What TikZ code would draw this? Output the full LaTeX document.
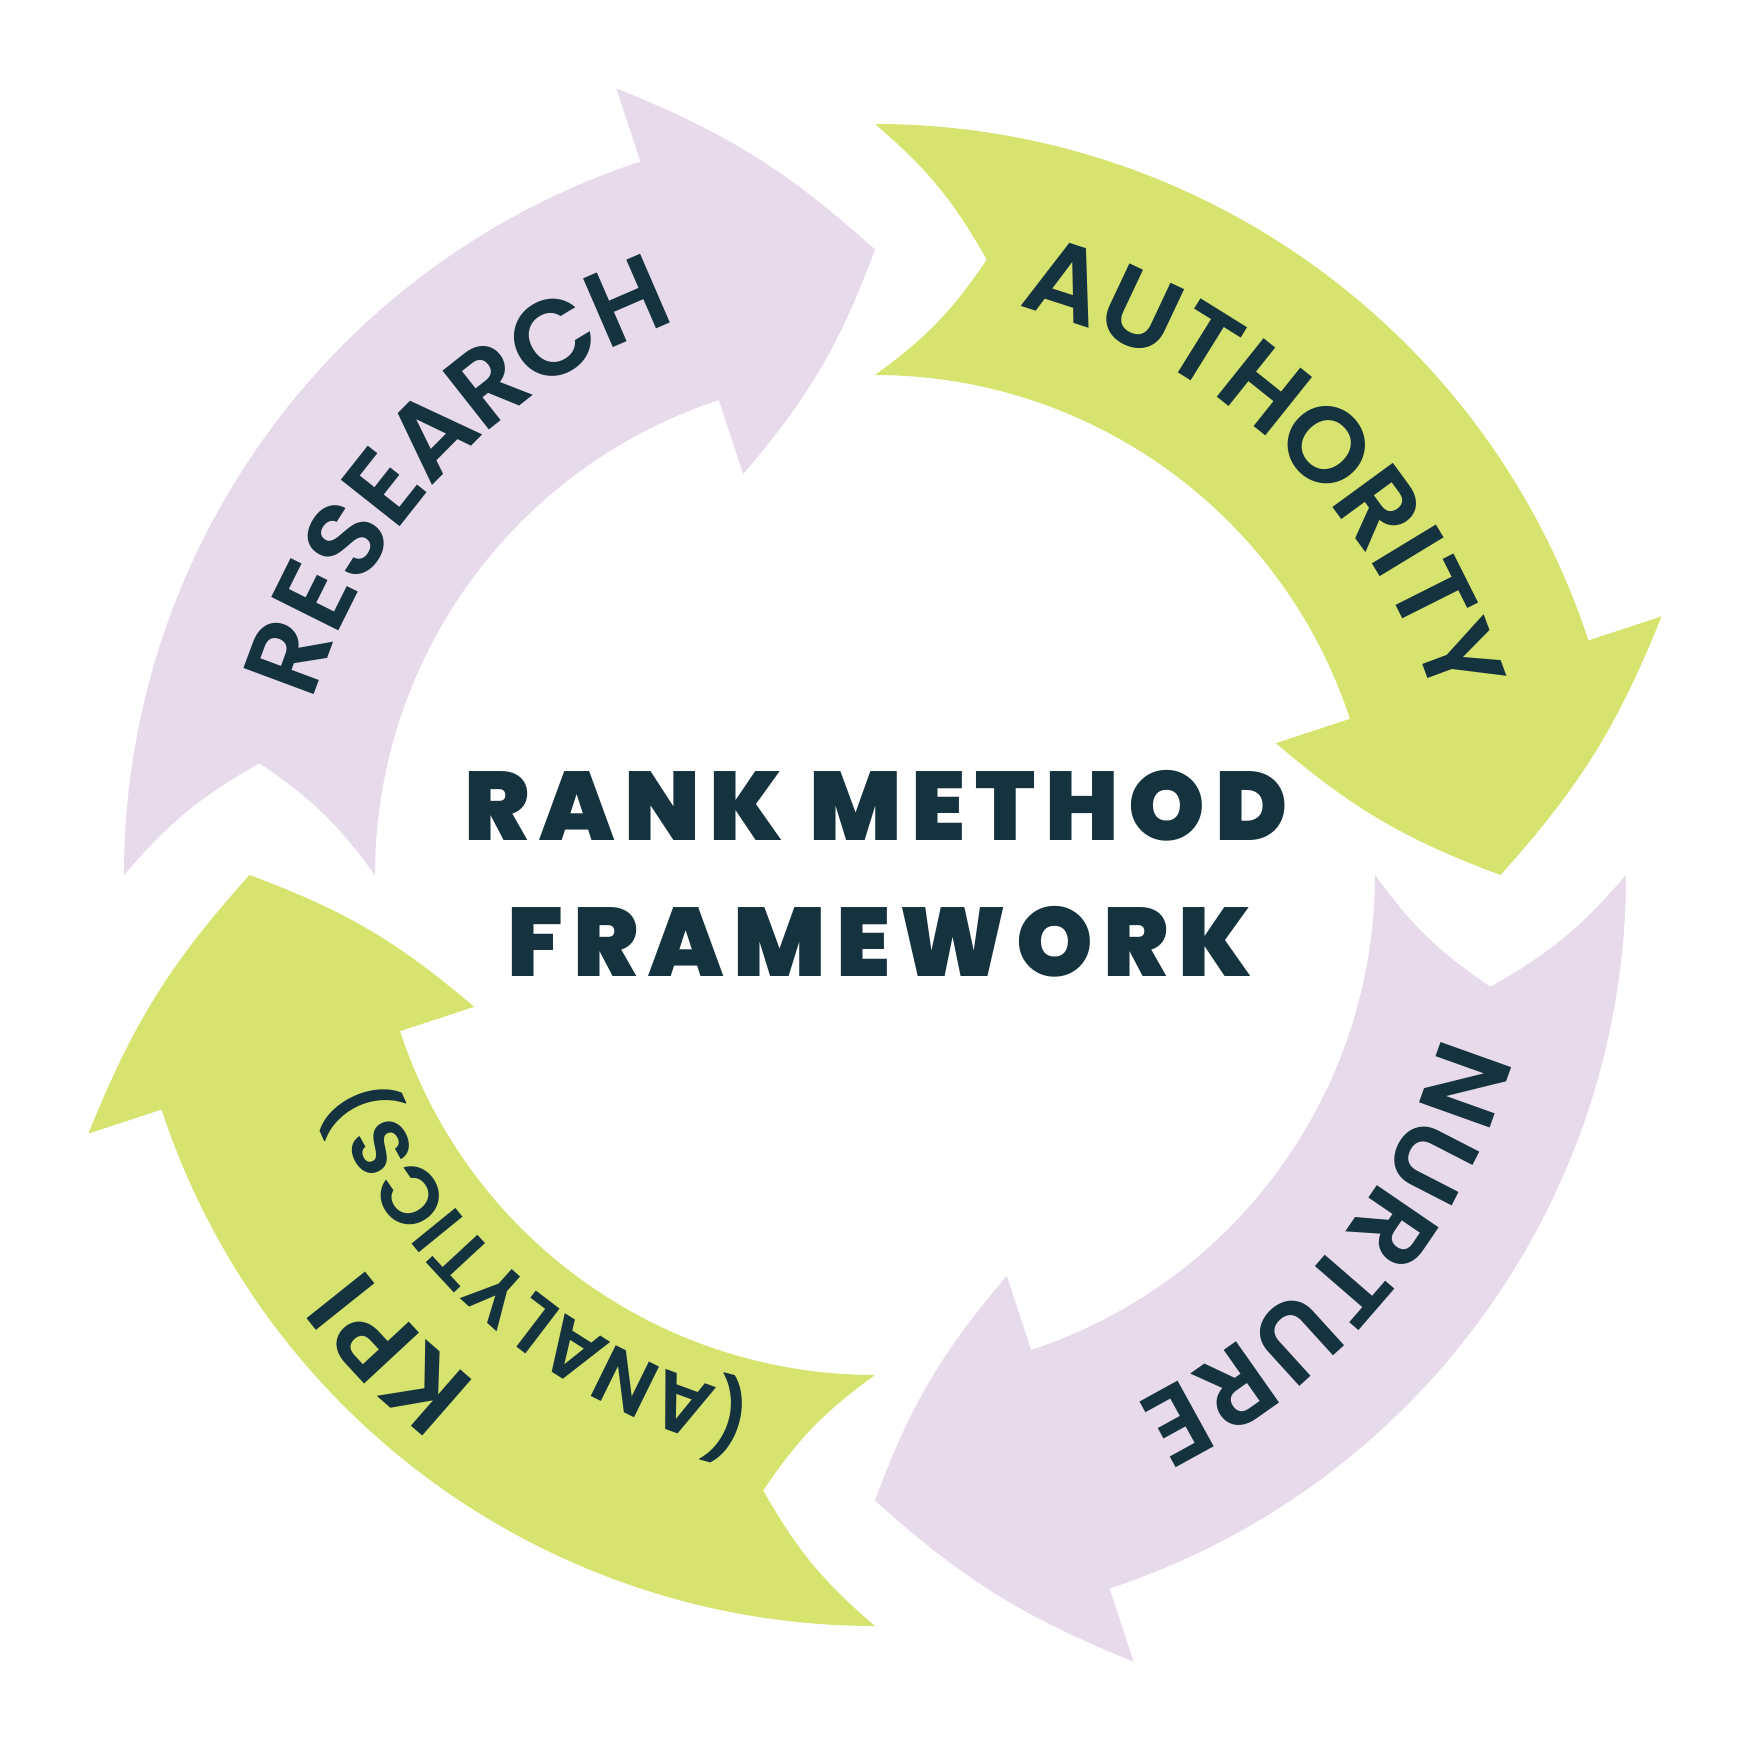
\documentclass[tikz,border=0pt]{standalone}
\usepackage{fontspec}
\newfontfamily\arcfont{Poppins SemiBold}
\newfontfamily\titlefont{Poppins Black}[LetterSpace=10]
\definecolor{ink}{HTML}{15323F}
\definecolor{lime}{HTML}{D7E36F}
\definecolor{lilac}{HTML}{E7DAEA}
\tikzset{
  lettr/.style={anchor=base, inner sep=0pt, outer sep=0pt, text=ink},
  titletext/.style={inner sep=0pt, text=ink, font=\fontsize{27.7}{28}\titlefont},
}
\def\lp{(}
\def\rp{)}
% store the width of one character at one size (measured outside the picture)
\newcommand\storeW[2]{%
  \setbox0=\hbox{\fontsize{#1}{#1}\selectfont\arcfont #2}%
  \expandafter\xdef\csname arcwX#1X#2\endcsname{\the\wd0}}
\newlength\arcTot
% #1 centre radius (px), #2 centre angle, #3 tracking (pt), #4 font size (pt), #5 half cap height (px), #6 name prefix, #7 letters
\newcommand\arcText[7]{%
  \global\arcTot=0pt
  \foreach \ch in {#7}{%
    \edef\wcur{\csname arcwX#4X\ch\endcsname}%
    \global\advance\arcTot by \wcur
    \global\advance\arcTot by #3pt}%
  \global\advance\arcTot by -#3pt
  \pgfmathsetmacro\arcR{#1*0.284528}%
  \pgfmathsetmacro\arcRb{#1-#5}%
  \pgfmathsetmacro\arcCur{#2 + (\the\arcTot/2)/\arcR*57.29578}%
  \global\let\arcCurG\arcCur
  \foreach \ch [count=\k] in {#7}{%
    \edef\wcur{\csname arcwX#4X\ch\endcsname}%
    \pgfmathsetmacro\hw{\wcur/2}%
    \pgfmathsetmacro\ang{\arcCurG - \hw/\arcR*57.29578}%
    \node[lettr, font=\fontsize{#4}{#4}\arcfont, rotate=\ang-90] (#6-\k) at (\ang:\arcRb) {\ch};
    \pgfmathsetmacro\nx{\ang - (\hw+#3)/\arcR*57.29578}%
    \global\let\arcCurG\nx
  }%
}
% curved arrow: #1 tail angle, #2 colour
\newcommand\ringArrow[2]{%
  \fill[#2] (#1:751) to[bend left=10] (#1-10.3:625.5) to[bend left=10] (#1:500)
    arc[start angle=#1, end angle=#1-71.8, radius=500]
    -- (#1-71.8:422) to[bend right=10] (#1-90:625.5) to[bend right=10] (#1-71.8:828)
    -- (#1-71.8:751) arc[start angle=#1-71.8, end angle=#1, radius=751] -- cycle;
}
\begin{document}
\foreach \ch in {R,E,S,A,C,H,U,T,O,I,Y,N,K,P}{\storeW{30.5}{\ch}}%
\foreach \ch in {\lp,\rp,A,N,L,Y,T,I,C,S}{\storeW{23}{\ch}}%
\begin{tikzpicture}[x=0.01cm, y=0.01cm]
  \fill[white] (-875,-875) rectangle (875,875);
  \useasboundingbox (-875,-875) rectangle (875,875);
  \ringArrow{180}{lilac}
  \ringArrow{90}{lime}
  \ringArrow{0}{lilac}
  \ringArrow{270}{lime}
  \arcText{626}{136.3}{1}{30.5}{37.5}{res}{R,E,S,E,A,R,C,H}
  \arcText{624}{46.4}{1.2}{30.5}{37.5}{aut}{A,U,T,H,O,R,I,T,Y}
  \arcText{627}{-39.9}{1.8}{30.5}{37.5}{nur}{N,U,R,T,U,R,E}
  \arcText{683}{224.6}{1}{30.5}{37.5}{kpi}{K,P,I}
  \arcText{564}{229.6}{0.5}{23}{28}{ana}{\lp,A,N,A,L,Y,T,I,C,S,\rp}
  \node[titletext] (title1) at (1,69) {RANK METHOD};
  \node[titletext] (title2) at (5,-66.5) {FRAMEWORK};
\end{tikzpicture}
\end{document}
